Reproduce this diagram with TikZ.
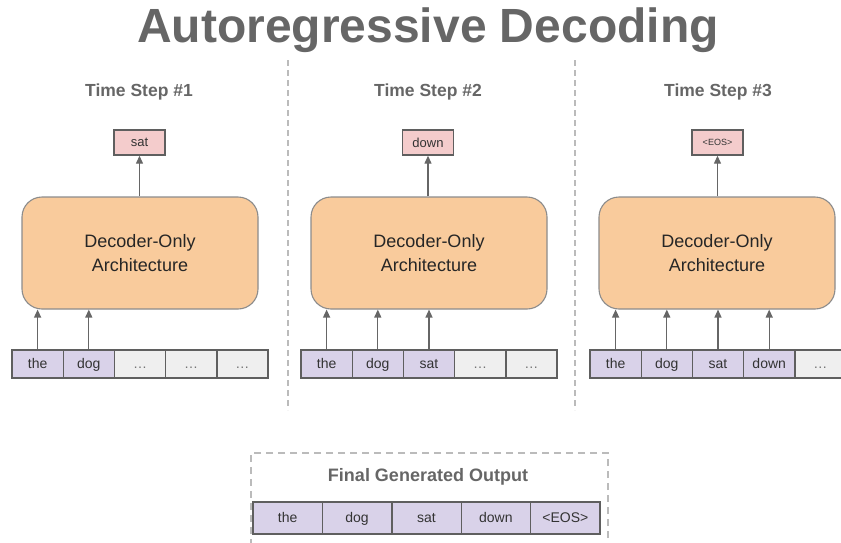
\documentclass[tikz,border=0pt]{standalone}
\usepackage{fontspec}
\setmainfont{Liberation Sans}
\usetikzlibrary{arrows.meta,calc}
\definecolor{titlegray}{HTML}{666666}
\definecolor{tokfill}{HTML}{D9D2E9}
\definecolor{emptyfill}{HTML}{EFEFEF}
\definecolor{outfill}{HTML}{F4CCCC}
\definecolor{decfill}{HTML}{F9CB9C}
\definecolor{edgegray}{HTML}{5F5F5F}
\definecolor{sepgray}{HTML}{BBBBBB}
\tikzset{
  cell/.style={draw=edgegray, line width=1.4pt, minimum width=51.2pt, minimum height=28pt,
    inner sep=0pt, font=\fontsize{14}{14}\selectfont, text=black!80,
    text height=9pt, text depth=1pt},
  tok/.style={cell, fill=tokfill},
  blank/.style={cell, fill=emptyfill, text=black!55},
  fincell/.style={cell, fill=tokfill, minimum width=69.4pt, minimum height=32pt},
  outbox/.style={draw=edgegray, line width=1.4pt, fill=outfill, minimum width=51pt,
    minimum height=25pt, inner sep=0pt, font=\fontsize{13}{13}\selectfont, text=black!80},
  decoder/.style={draw=gray!90, line width=1.1pt, fill=decfill, rounded corners=20pt,
    minimum width=236pt, minimum height=112pt, align=center,
    font=\fontsize{18}{24}\selectfont, text=black!85},
  steplabel/.style={font=\bfseries\fontsize{17.5}{17.5}\selectfont, text=titlegray},
  arr/.style={draw=titlegray, line width=1.3pt, -{Triangle[length=8pt,width=7pt]}},
  sep/.style={draw=sepgray, line width=1.2pt, dash pattern=on 6pt off 4pt},
}
\begin{document}
\begin{tikzpicture}[x=1pt,y=-1pt]
\useasboundingbox (0,0) rectangle (841,542);

% title
\node[font=\bfseries\fontsize{48}{48}\selectfont, text=titlegray] (title) at (428,30) {Autoregressive Decoding};

% separators between the time steps
\coordinate (s1t) at (288,60); \coordinate (s1b) at (288,410);
\coordinate (s2t) at (575,60); \coordinate (s2b) at (575,410);
\draw[sep] (s1t) -- (s1b);
\draw[sep] (s2t) -- (s2b);

% step labels
\node[steplabel] (l1) at (139,92) {Time Step \#1};
\node[steplabel] (l2) at (428,92) {Time Step \#2};
\node[steplabel] (l3) at (718,92) {Time Step \#3};

% decoder blocks
\node[decoder] (d1) at (140,253) {Decoder-Only\\Architecture};
\node[decoder] (d2) at (429,253) {Decoder-Only\\Architecture};
\node[decoder] (d3) at (717,253) {Decoder-Only\\Architecture};

% predicted tokens
\node[outbox] (o1) at (139.5,142.5) {sat};
\node[outbox] (o2) at (428,142.5) {down};
\node[outbox, font=\fontsize{9}{9}\selectfont] (o3) at (717.5,142.5) {<EOS>};

% input sequences
\foreach \lab/\sty [count=\i] in {the/tok,dog/tok,\dots/blank,\dots/blank,\dots/blank}
  \node[\sty] (a\i) at ({12+25.6+51.2*(\i-1)},364) {\lab};
\foreach \lab/\sty [count=\i] in {the/tok,dog/tok,sat/tok,\dots/blank,\dots/blank}
  \node[\sty] (b\i) at ({301+25.6+51.2*(\i-1)},364) {\lab};
\foreach \lab/\sty [count=\i] in {the/tok,dog/tok,sat/tok,down/tok,\dots/blank}
  \node[\sty] (c\i) at ({590+25.6+51.2*(\i-1)},364) {\lab};

% inputs into the decoders
\foreach \i in {1,2} \draw[arr] (a\i.north) -- (a\i.north |- d1.south);
\foreach \i in {1,2,3} \draw[arr] (b\i.north) -- (b\i.north |- d2.south);
\foreach \i in {1,2,3,4} \draw[arr] (c\i.north) -- (c\i.north |- d3.south);

% decoder outputs
\draw[arr] (d1.north -| o1) -- (o1.south);
\draw[arr] (d2.north -| o2) -- (o2.south);
\draw[arr] (d3.north -| o3) -- (o3.south);

% final generated output
\node[draw=sepgray, line width=1.3pt, dash pattern=on 7pt off 5pt, minimum width=357pt,
  minimum height=100pt, inner sep=0pt] (fin) at (429.5,503) {};
\node[steplabel, font=\bfseries\fontsize{18}{18}\selectfont] (fint) at (428,477) {Final Generated Output};
\foreach \lab [count=\i] in {the,dog,sat,down,<EOS>}
  \node[fincell] (f\i) at ({253+34.7+69.4*(\i-1)},518) {\lab};
\end{tikzpicture}
\end{document}
